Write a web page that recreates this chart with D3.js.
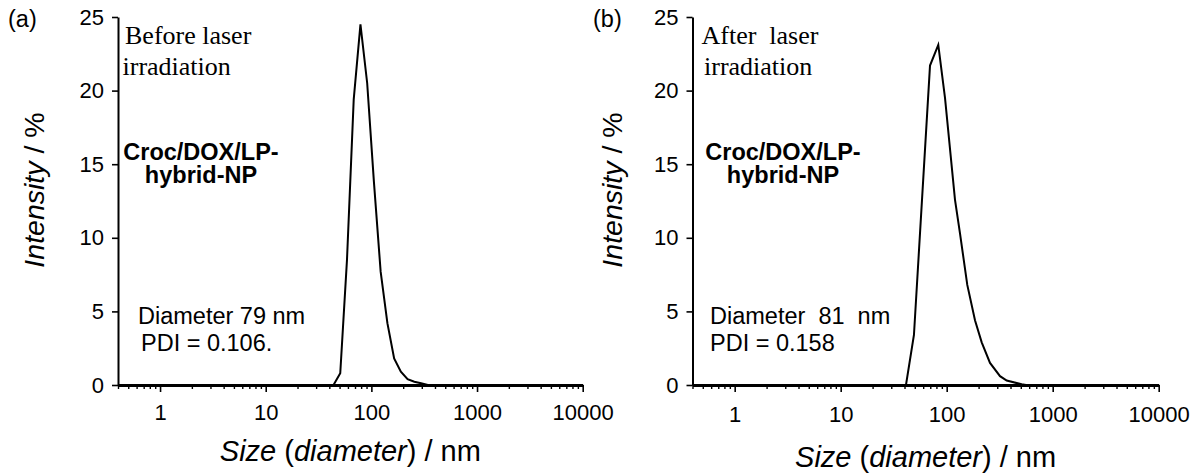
<!DOCTYPE html>
<html><head><meta charset="utf-8">
<script src="https://cdn.jsdelivr.net/npm/d3@7"></script>
<style>
body{margin:0;background:#fff;}
svg{display:block;font-family:Arial,"Liberation Sans",sans-serif;}
</style></head><body>
<svg id="fig" width="1201" height="474"></svg>
<script>
// DLS intensity distributions: hydrodynamic diameter (nm) vs intensity (%)
const sizesBefore = [0.4, 37.84, 43.82, 50.75, 58.77, 68.06, 78.82, 91.28, 105.7, 122.4, 141.8, 164.2, 190.1, 220.2, 255.0, 295.3, 342.0, 10000];
const intensityBefore = [0, 0, 0, 0.8, 8.5, 19.4, 24.5, 20.5, 13.8, 7.7, 4.2, 1.8, 0.9, 0.39, 0.22, 0.12, 0, 0];
const sizesAfter = [0.4, 41.3, 49.1, 69.6, 83.3, 96.4, 119.7, 133.5, 156.4, 184.9, 213.9, 256.2, 318.5, 368.3, 509.9, 560, 10000];
const intensityAfter = [0, 0, 3.4, 21.7, 23.1, 19.5, 12.6, 10.3, 6.8, 4.4, 2.9, 1.5, 0.6, 0.3, 0.05, 0, 0];

const xMajorTicks = [1, 10, 100, 1000, 10000];
const xMinorTicks = [0.4, 0.5, 0.6, 0.7, 0.8, 0.9,
  2, 3, 4, 5, 6, 7, 8, 9, 20, 30, 40, 50, 60, 70, 80, 90,
  200, 300, 400, 500, 600, 700, 800, 900, 2000, 3000, 4000, 5000, 6000, 7000, 8000, 9000];
const yTicks = [0, 5, 10, 15, 20, 25];

const panels = [
  {
    tag: "(a)", sizes: sizesBefore, values: intensityBefore,
    left: 118, right: 582.7, tagX: 8, yTitleX: 44, xTitleY: 460.5, xLabelPad: 12,
    condition: [{t: "Before laser", x: 125, y: 44}, {t: "irradiation", x: 122.5, y: 75}],
    sampleX: 201,
    stats: [{t: "Diameter 79 nm", x: 138, y: 324}, {t: "PDI = 0.106.", x: 141, y: 350.5}]
  },
  {
    tag: "(b)", sizes: sizesAfter, values: intensityAfter,
    left: 692.5, right: 1158.7, tagX: 593, yTitleX: 622, xTitleY: 466.5, xLabelPad: 14,
    condition: [{t: "After  laser", x: 701.5, y: 44}, {t: "irradiation", x: 704, y: 75}],
    sampleX: 783,
    stats: [{t: "Diameter  81  nm", x: 710, y: 323.5}, {t: "PDI = 0.158", x: 710, y: 350.5}]
  }
];

const svg = d3.select("#fig");
const plotTop = 17, plotBottom = 385;

panels.forEach(p => {
  const x = d3.scaleLog().domain([0.4, 10000]).range([p.left, p.right]);
  const y = d3.scaleLinear().domain([0, 25]).range([plotBottom, plotTop]);
  const g = svg.append("g");

  // distribution curve
  const pts = p.sizes.map((s, i) => [s, p.values[i]]);
  g.append("path")
    .datum(pts)
    .attr("fill", "none")
    .attr("stroke", "#000")
    .attr("stroke-width", 2)
    .attr("stroke-linejoin", "miter")
    .attr("d", d3.line().x(d => x(d[0])).y(d => y(d[1])));

  // y axis
  const yAxis = g.append("g")
    .attr("transform", `translate(${p.left},0)`)
    .call(d3.axisLeft(y).tickValues(yTicks).tickSize(6).tickSizeOuter(0).tickPadding(8));
  yAxis.select(".domain").attr("stroke-width", 2);
  yAxis.selectAll(".tick line").attr("stroke-width", 1.6);
  yAxis.selectAll("text").attr("font-size", 22).attr("fill", "#000").attr("font-family", "Arial, 'Liberation Sans', sans-serif");

  // x axis: minor ticks then major ticks with labels
  const xMinor = g.append("g")
    .attr("transform", `translate(0,${plotBottom})`)
    .call(d3.axisBottom(x).tickValues(xMinorTicks).tickSize(4).tickSizeOuter(0).tickFormat(""));
  xMinor.select(".domain").remove();
  xMinor.selectAll(".tick line").attr("stroke-width", 1.4);

  const xAxis = g.append("g")
    .attr("transform", `translate(0,${plotBottom})`)
    .call(d3.axisBottom(x).tickValues(xMajorTicks).tickSize(7).tickSizeOuter(0)
      .tickPadding(p.xLabelPad).tickFormat(d3.format("d")));
  xAxis.select(".domain").attr("stroke-width", 3);
  xAxis.selectAll(".tick line").attr("stroke-width", 1.6);
  xAxis.selectAll("text").attr("font-size", 22).attr("fill", "#000").attr("font-family", "Arial, 'Liberation Sans', sans-serif");

  // panel tag
  g.append("text").attr("x", p.tagX).attr("y", 27).attr("font-size", 23.5).text(p.tag);

  // condition note (serif)
  p.condition.forEach(c => {
    g.append("text").attr("x", c.x).attr("y", c.y)
      .attr("font-family", "'Times New Roman','Liberation Serif',serif")
      .attr("font-size", 26)
      .style("white-space", "pre")
      .text(c.t);
  });

  // sample name
  [["Croc/DOX/LP-", 159.5], ["hybrid-NP", 183]].forEach(([t, yy]) => {
    g.append("text").attr("x", p.sampleX).attr("y", yy)
      .attr("text-anchor", "middle").attr("font-weight", "bold").attr("font-size", 23.5)
      .text(t);
  });

  // size / PDI
  p.stats.forEach(s => {
    g.append("text").attr("x", s.x).attr("y", s.y).attr("font-size", 23.5)
      .style("white-space", "pre").text(s.t);
  });

  // axis titles
  const yt = g.append("text")
    .attr("transform", `translate(${p.yTitleX},190) rotate(-90)`)
    .attr("text-anchor", "middle").attr("font-size", 28.5).style("white-space", "pre");
  yt.append("tspan").attr("font-style", "italic").text("Intensity");
  yt.append("tspan").text(" / %");

  const xt = g.append("text")
    .attr("x", (p.left + p.right) / 2).attr("y", p.xTitleY)
    .attr("text-anchor", "middle").attr("font-size", 29).style("white-space", "pre");
  xt.append("tspan").attr("font-style", "italic").text("Size");
  xt.append("tspan").text(" (");
  xt.append("tspan").attr("font-style", "italic").text("diameter");
  xt.append("tspan").text(") / nm");
});
</script>
</body></html>
